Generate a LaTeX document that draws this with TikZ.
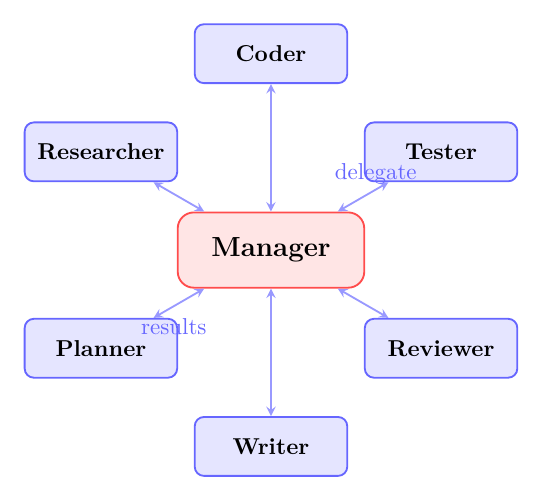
\documentclass[tikz,border=0pt]{standalone}
\usepackage{amsmath}
\usepackage{amssymb}
\usetikzlibrary{shapes, arrows, positioning}
\begin{document}
\begin{tikzpicture}[
        agent/.style={draw=blue!60, fill=blue!10, thick, rounded corners=4pt,
            minimum width=2.33cm, minimum height=0.9cm, font=\bfseries},
        boss/.style={draw=red!70, fill=red!10, thick, rounded corners=7pt,
            minimum width=2.85cm, minimum height=1.15cm, font=\large\bfseries},
        link/.style={stealth-stealth, thick, blue!40},
        lbl/.style={text=blue!60}
    ]
        \useasboundingbox (-4.14,-3.82) rectangle (4.14,3.82);

        % 中心节点
        \node[boss] (manager) at (0,0) {Manager};

        % 周围的智能体 (半径 3cm)
        \node[agent] (coder)      at (90:3)  {Coder};
        \node[agent] (tester)     at (30:3)  {Tester};
        \node[agent] (researcher) at (150:3) {Researcher};
        \node[agent] (planner)    at (210:3) {Planner};
        \node[agent] (writer)     at (270:3) {Writer};
        \node[agent] (reviewer)   at (330:3) {Reviewer};

        % 连线
        \foreach \a in {coder, researcher, writer, reviewer} \draw[link] (manager) -- (\a);
        \draw[link] (manager) -- node[lbl, pos=0.75, above, yshift=-1.5pt] {delegate} (tester);
        \draw[link] (manager) -- node[lbl, pos=0.6, below, yshift=-1.5pt] {results} (planner);
    \end{tikzpicture}
\end{document}
